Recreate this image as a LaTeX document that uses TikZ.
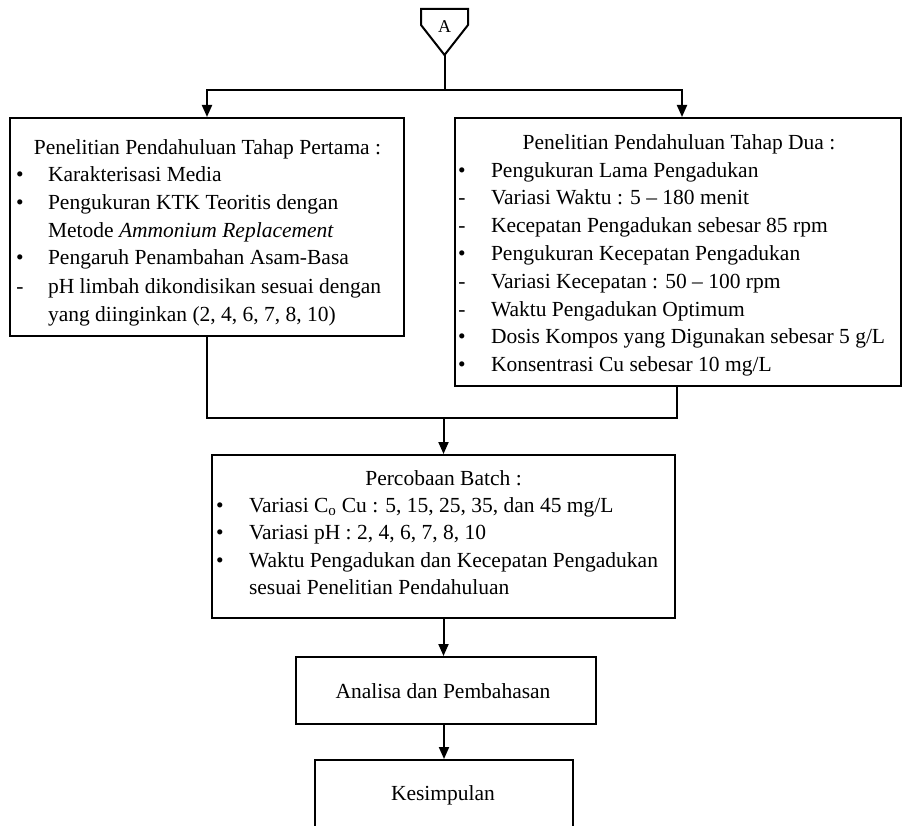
\documentclass[tikz,border=0pt]{standalone}
\usepackage{fontspec}
\setmainfont{Liberation Serif}
\usetikzlibrary{arrows.meta}
\begin{document}
\begin{tikzpicture}[x=1pt,y=-1pt,line width=2pt,
  box/.style={draw,rectangle,inner sep=0pt},
  arr/.style={-{Triangle[length=12pt,width=10pt]}},
  txt/.style={anchor=base west,inner sep=0pt,font=\fontsize{21.5}{26}\selectfont},
  ctxt/.style={anchor=base,inner sep=0pt,font=\fontsize{21.5}{26}\selectfont},
  bmark/.style={anchor=base,inner sep=0pt,font=\fontsize{21.5}{26}\selectfont}]
\useasboundingbox (0,0) rectangle (904,826);
\fill[white] (0,0) rectangle (904,826);

% off-page connector A
\node[inner sep=0pt,font=\fontsize{18}{18}\selectfont] (A) at (444.5,27) {A};
\draw (421,9) -- (468,9) -- (468,25) -- (444.5,55) -- (421,25) -- cycle;
\coordinate (Abot) at (444.5,55);
\coordinate (split) at (444.5,90);

% boxes
\node[box,minimum width=394,minimum height=218] (p1) at (207,227) {};
\node[box,minimum width=446,minimum height=268] (p2) at (678,252) {};
\node[box,minimum width=463,minimum height=163] (batch) at (443.5,536.5) {};
\node[box,minimum width=300,minimum height=67] (ana) at (446,690.5) {};
\node[box,minimum width=258,minimum height=76] (kes) at (444,798) {};

% left box text
\node[ctxt] (p1t) at (207.5,155) {Penelitian Pendahuluan Tahap Pertama :};
\node[bmark] (p1m1) at (20,182) {\textbullet};
\node[txt] (p1l1) at (47,182) {Karakterisasi Media};
\node[bmark] (p1m2) at (20,210) {\textbullet};
\node[txt] (p1l2) at (47,210) {Pengukuran KTK Teoritis dengan};
\node[txt] (p1l3) at (47,237) {Metode \textit{Ammonium Replacement}};
\node[bmark] (p1m4) at (20,265) {\textbullet};
\node[txt] (p1l4) at (47,265) {Pengaruh Penambahan Asam-Basa};
\node[bmark] (p1m5) at (20,293) {-};
\node[txt] (p1l5) at (47,293) {pH limbah dikondisikan sesuai dengan};
\node[txt] (p1l6) at (47,321) {yang diinginkan (2, 4, 6, 7, 8, 10)};

% right box text
\node[ctxt] (p2t) at (679,150) {Penelitian Pendahuluan Tahap Dua :};
\node[bmark] (p2m1) at (462,178) {\textbullet};
\node[txt] (p2l1) at (490,178) {Pengukuran Lama Pengadukan};
\node[bmark] (p2m2) at (462,205) {-};
\node[txt] (p2l2) at (490,205) {Variasi Waktu : 5 -- 180 menit};
\node[bmark] (p2m3) at (462,233) {-};
\node[txt] (p2l3) at (490,233) {Kecepatan Pengadukan sebesar 85 rpm};
\node[bmark] (p2m4) at (462,261) {\textbullet};
\node[txt] (p2l4) at (490,261) {Pengukuran Kecepatan Pengadukan};
\node[bmark] (p2m5) at (462,288) {-};
\node[txt] (p2l5) at (490,288) {Variasi Kecepatan : 50 -- 100 rpm};
\node[bmark] (p2m6) at (462,316) {-};
\node[txt] (p2l6) at (490,316) {Waktu Pengadukan Optimum};
\node[bmark] (p2m7) at (462,343) {\textbullet};
\node[txt] (p2l7) at (490,343) {Dosis Kompos yang Digunakan sebesar 5 g/L};
\node[bmark] (p2m8) at (462,371) {\textbullet};
\node[txt] (p2l8) at (490,371) {Konsentrasi Cu sebesar 10 mg/L};

% batch text
\node[ctxt] (bt) at (443.5,485) {Percobaan Batch :};
\node[bmark] (bm1) at (220,512) {\textbullet};
\node[txt] (bl1) at (248,512) {Variasi C\textsubscript{o} Cu : 5, 15, 25, 35, dan 45 mg/L};
\node[bmark] (bm2) at (220,539) {\textbullet};
\node[txt] (bl2) at (248,539) {Variasi pH : 2, 4, 6, 7, 8, 10};
\node[bmark] (bm3) at (220,567) {\textbullet};
\node[txt] (bl3) at (248,567) {Waktu Pengadukan dan Kecepatan Pengadukan};
\node[txt] (bl4) at (248,594) {sesuai Penelitian Pendahuluan};

% other texts
\node[ctxt] (anat) at (443,698) {Analisa dan Pembahasan};
\node[ctxt] (kest) at (443,800) {Kesimpulan};

% connectors
\draw (Abot) -- (split);
\draw[arr] (split) -| (p1.north);
\draw[arr] (split) -| ([xshift=4pt]p2.north);
\coordinate (join) at (443.5,418);
\draw (p1.south) |- (join);
\draw ([xshift=-1pt]p2.south) |- (join);
\draw[arr] (join) -- (batch.north);
\draw[arr] (batch.south) -- (batch.south |- ana.north);
\draw[arr] (kes.north |- ana.south) -- (kes.north);
\end{tikzpicture}
\end{document}
